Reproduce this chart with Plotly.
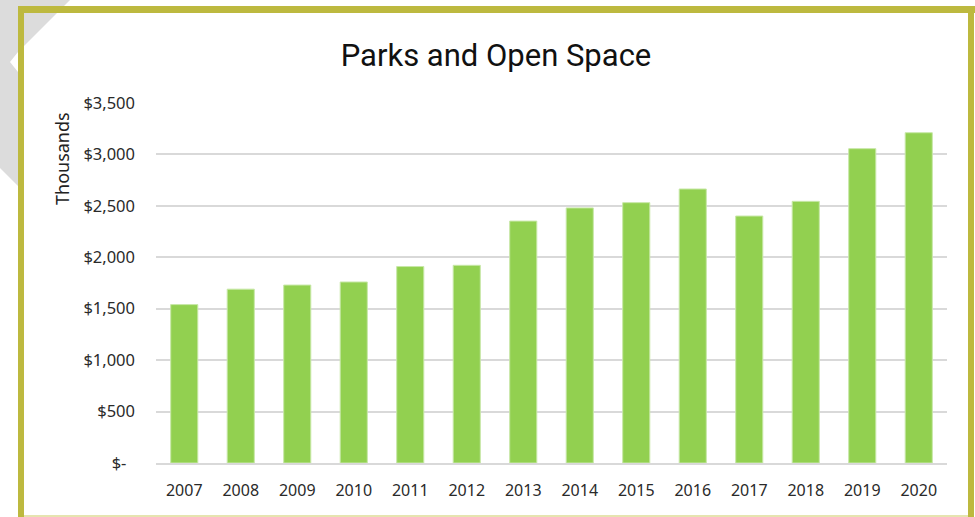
import plotly.graph_objects as go

years = ["2007", "2008", "2009", "2010", "2011", "2012", "2013",
         "2014", "2015", "2016", "2017", "2018", "2019", "2020"]
spending = [1540, 1690, 1730, 1760, 1910, 1922, 2352,
            2480, 2531, 2664, 2401, 2544, 3056, 3211]
tick_vals = [0, 500, 1000, 1500, 2000, 2500, 3000, 3500]
tick_text = ["$-  ", "$500", "$1,000", "$1,500", "$2,000", "$2,500", "$3,000", "$3,500"]

W, H = 975, 517
L, R, T, B = 156, 947, 103, 463

def px(x):
    return (x - L) / (R - L)

def py(y):
    return (B - y) / (B - T)

fig = go.Figure()
fig.add_trace(go.Bar(
    x=years, y=spending,
    marker=dict(color="#92D050", line=dict(color="#c8e8a8", width=1)),
))

shapes = []
# gray watermark pieces outside the frame
wm = [(0, 0), (70, 0), (18, 52), (10, 62), (18, 72), (18, 186), (0, 168)]
path = "M " + " L ".join(f"{px(x):.5f},{py(y):.5f}" for x, y in wm) + " Z"
shapes.append(dict(type="path", xref="paper", yref="paper", path=path,
                   fillcolor="#dcdcdc", line=dict(width=0), layer="below"))
border = "#bdb93f"
shapes.append(dict(type="line", xref="paper", yref="paper",
                   x0=px(21), x1=px(21), y0=py(6), y1=py(517),
                   line=dict(color=border, width=6)))
shapes.append(dict(type="line", xref="paper", yref="paper",
                   x0=px(18), x1=px(975), y0=py(9.5), y1=py(9.5),
                   line=dict(color=border, width=7)))
shapes.append(dict(type="line", xref="paper", yref="paper",
                   x0=px(971), x1=px(971), y0=py(6), y1=py(517),
                   line=dict(color=border, width=6)))
shapes.append(dict(type="line", xref="paper", yref="paper",
                   x0=px(24), x1=px(968), y0=py(516), y1=py(516),
                   line=dict(color="#e6e4b0", width=2)))

fig.update_layout(
    width=W, height=H,
    margin=dict(l=L, r=W - R, t=T, b=H - B, pad=0),
    paper_bgcolor="white", plot_bgcolor="white",
    showlegend=False,
    bargap=0.52,
    shapes=shapes,
    title=dict(text="Parks and Open Space", xref="container", x=496 / W,
               xanchor="center", yref="container",
               y=1 - 55 / H, yanchor="middle",
               font=dict(family="Roboto", size=31, color="#111111")),
    annotations=[dict(text="Thousands", xref="paper", yref="paper",
                      x=px(62), y=py(159), textangle=-90, showarrow=False,
                      xanchor="center", yanchor="middle",
                      font=dict(family="Noto Sans", size=18, color="#222222"))],
    xaxis=dict(showgrid=False, showline=True, linecolor="#d9d9d9", linewidth=2,
               ticks="", ticklabelstandoff=12,
               tickfont=dict(family="Noto Sans", size=16, color="#2a2a2a")),
    yaxis=dict(range=[0, 3500], tickvals=tick_vals, ticktext=tick_text,
               showgrid=True, gridcolor="#d9d9d9", gridwidth=2,
               zeroline=False, showline=False, ticks="",
               ticklabelstandoff=20,
               tickfont=dict(family="Noto Sans", size=16.5, color="#2a2a2a")),
)

fig.write_html("out.html")
